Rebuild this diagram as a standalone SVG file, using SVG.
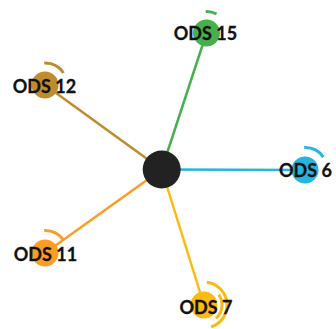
<svg xmlns="http://www.w3.org/2000/svg" width="336" height="329" viewBox="0 0 336 329">
<style>
.edge{stroke-width:2.5;fill:none}
.arc{fill:none;stroke-width:3}
.lbl{font-family:Lato,"Liberation Sans",sans-serif;font-weight:bold;font-size:18px;fill:#111;text-anchor:middle;stroke:#111;stroke-width:0.3}
</style>
<rect width="336" height="329" fill="#fff"/>
<g id="connectors">
<line class="edge" x1="161.7" y1="169.5" x2="45" y2="85" stroke="#BF8B2E"/>
<line class="edge" x1="161.7" y1="169.5" x2="206.5" y2="33" stroke="#48B04A"/>
<line class="edge" x1="161.7" y1="169.5" x2="305" y2="170" stroke="#26B5DE"/>
<line class="edge" x1="161.7" y1="169.5" x2="45" y2="253" stroke="#FD9D24"/>
<line class="edge" x1="161.7" y1="169.5" x2="204" y2="305" stroke="#FCBA13"/>
</g>
<g id="center">
<circle cx="161.7" cy="169.5" r="19" fill="#222"/>
</g>
<g id="ods12">
<circle cx="45" cy="85" r="13.5" fill="#BF8B2E"/>
<path class="arc" stroke="#BF8B2E" d="M44.23 63.01 A22 22 0 0 1 63.45 73.02"/>
<text class="lbl" x="44.5" y="92.5">ODS 12</text>
</g>
<g id="ods15">
<circle cx="206.5" cy="33" r="13.5" fill="#48B04A"/>
<path class="arc" stroke="#48B04A" d="M205.75 11.51 A21.5 21.5 0 0 1 216.59 14.02"/>
<text class="lbl" x="205.5" y="40">ODS 15</text>
</g>
<g id="ods6">
<circle cx="305" cy="170" r="13.5" fill="#26B5DE"/>
<path class="arc" stroke="#26B5DE" d="M304.21 147.51 A22.5 22.5 0 0 1 323.43 157.1"/>
<text class="lbl" x="305.5" y="177">ODS 6</text>
</g>
<g id="ods11">
<circle cx="45" cy="253" r="13.5" fill="#FD9D24"/>
<path class="arc" stroke="#FD9D24" d="M44.21 230.51 A22.5 22.5 0 0 1 63.43 240.1"/>
<text class="lbl" x="45.5" y="261">ODS 11</text>
</g>
<g id="ods7">
<circle cx="204" cy="305" r="13.5" fill="#FCBA13"/>
<path class="arc" stroke="#FCBA13" stroke-width="3.5" d="M206.8 282.17 A23 23 0 0 1 211.11 326.87"/>
<path class="arc" stroke="#FCBA13" stroke-width="2" d="M218.74 294.68 A18 18 0 0 1 216.04 318.38"/>
<text class="lbl" x="206" y="313.5">ODS 7</text>
</g>
</svg>
